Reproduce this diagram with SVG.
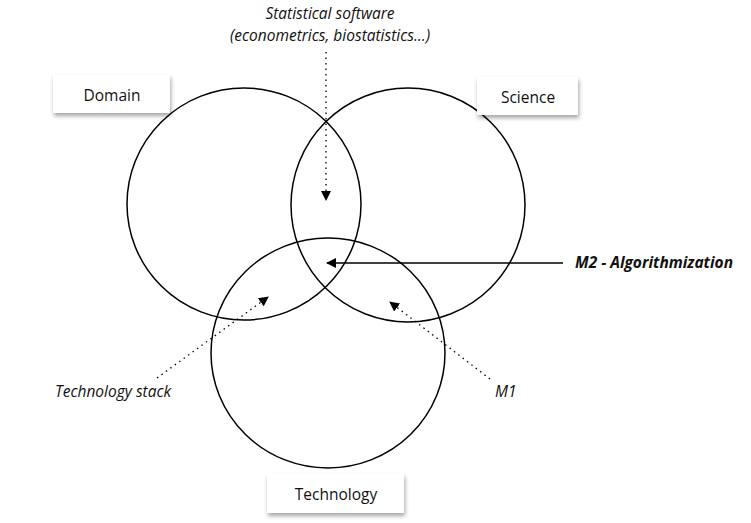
<svg xmlns="http://www.w3.org/2000/svg" width="751" height="523" viewBox="0 0 751 523">
<defs>
<filter id="sh" x="-20%" y="-30%" width="140%" height="170%"><feDropShadow dx="1" dy="3" stdDeviation="2" flood-color="#000" flood-opacity="0.35"/></filter>
<marker id="ah" viewBox="0 0 10 10" refX="9" refY="5" markerWidth="10" markerHeight="10" markerUnits="userSpaceOnUse" orient="auto"><path d="M0,0 L10,5 L0,10 z" fill="#000"/></marker>
</defs>
<style>
.c{fill:none;stroke:#000;stroke-width:1.5}
.box{fill:#fff;filter:url(#sh)}
.lbl{font-family:"Open Sans","DejaVu Sans",sans-serif;font-size:15.5px;fill:#111;text-anchor:middle}
.it{font-family:"Open Sans","DejaVu Sans",sans-serif;font-size:15.5px;font-style:italic;fill:#111}
.dot{stroke:#000;stroke-width:1.3;stroke-dasharray:1.5 4;fill:none}
.sol{stroke:#000;stroke-width:1.3;fill:none}
</style>
<rect width="751" height="523" fill="#fff"/>
<g id="domain-circle"><ellipse class="c" cx="244" cy="204" rx="117" ry="116"/></g>
<g id="science-circle"><ellipse class="c" cx="408" cy="205" rx="117" ry="117"/></g>
<g id="technology-circle"><ellipse class="c" cx="328" cy="353" rx="117" ry="115"/></g>
<g id="domain"><rect class="box" x="53" y="75" width="117" height="38"/><text class="lbl" x="112" y="101">Domain</text></g>
<g id="science"><rect class="box" x="477" y="77" width="101" height="38"/><text class="lbl" x="528" y="103">Science</text></g>
<g id="technology"><rect class="box" x="267" y="474" width="137" height="39"/><text class="lbl" x="336" y="500">Technology</text></g>
<g id="statistical-software"><text class="it" x="330" y="19" text-anchor="middle">Statistical software</text><text class="it" x="330" y="41" text-anchor="middle">(econometrics, biostatistics…)</text></g>
<g id="m2"><text class="it" x="575" y="268" font-weight="bold" textLength="158">M2 - Algorithmization</text></g>
<g id="tech-stack"><text class="it" x="55" y="397">Technology stack</text></g>
<g id="m1"><text class="it" x="495" y="397">M1</text></g>
<g id="connectors">
<line class="dot" x1="326" y1="52" x2="326" y2="200" marker-end="url(#ah)"/>
<line class="sol" x1="563" y1="263" x2="327" y2="263" marker-end="url(#ah)"/>
<line class="dot" x1="157" y1="378" x2="268" y2="297" marker-end="url(#ah)"/>
<line class="dot" x1="490" y1="379" x2="390" y2="302" marker-end="url(#ah)"/>
</g>
</svg>
